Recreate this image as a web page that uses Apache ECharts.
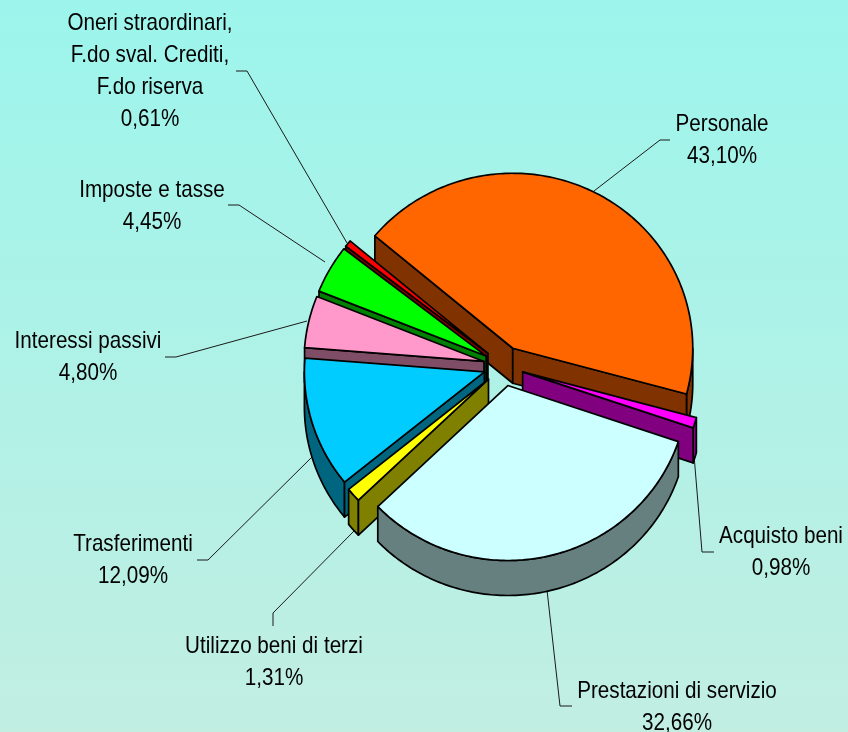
<!DOCTYPE html>
<html>
<head>
<meta charset="utf-8">
<style>html,body{margin:0;padding:0;background:#9cf5ec}#c{width:848px;height:732px}</style>
<script src="https://cdn.jsdelivr.net/npm/echarts@6/dist/echarts.min.js"></script>
</head>
<body>
<div id="c"></div>
<script>
// Data, clockwise from the first slice
const categories = ['Personale', 'Acquisto beni', 'Prestazioni di servizio', 'Utilizzo beni di terzi', 'Trasferimenti', 'Interessi passivi', 'Imposte e tasse', 'Oneri straordinari,\nF.do sval. Crediti,\nF.do riserva'];
const values = [43.10, 0.98, 32.66, 1.31, 12.09, 4.80, 4.45, 0.61];
// Styles
const topColors = ['#FF6600', '#FF00FF', '#CCFFFF', '#FFFF00', '#00CCFF', '#FF99CC', '#00FF00', '#FF0000'];
const sideColors = ['#803300', '#800080', '#668080', '#808000', '#006680', '#804D66', '#008000', '#800000'];
// Layout
const CX = 503.5, CY = 366, RX = 180, RY = 175, DEPTH = 35, EXPLODE = 20, START = 310;
const TEXT_SCALE_X = 0.86;
const drawOrder = [0, 7, 6, 5, 4, 3, 1, 2];
const labelCenters = [[722, 140], [781, 552], [677, 707], [274, 662], [133, 560], [88, 357], [152, 206], [150, 71]];
const leaders = [
  [[670, 140], [660, 140], [594, 191]],
  [[714, 552], [702, 552], [694, 455]],
  [[572, 706], [560, 706], [547, 590]],
  [[273, 626], [273, 613], [355, 530]],
  [[197, 560], [208, 560], [313, 456]],
  [[165, 357], [176, 357], [307, 321]],
  [[228, 205], [239, 205], [325, 262]],
  [[236, 71], [247, 71], [347, 243]]
];
const total = values.reduce((a, b) => a + b, 0);
const starts = [];
values.reduce((acc, v, i) => { starts[i] = acc; return acc + v / total * 360; }, START);

function pt(ox, oy, deg, dy) {
  const t = deg * Math.PI / 180;
  return [ox + RX * Math.sin(t), oy - RY * Math.cos(t) + (dy || 0)];
}
function arcPoints(ox, oy, a0, a1, dy) {
  const pts = [], n = Math.max(2, Math.ceil(Math.abs(a1 - a0) / 1));
  for (let k = 0; k <= n; k++) pts.push(pt(ox, oy, a0 + (a1 - a0) * k / n, dy));
  return pts;
}
const EDGE = { stroke: '#000', lineWidth: 1.7, lineJoin: 'round' };
function poly(points, fill) {
  return { type: 'polygon', shape: { points }, style: Object.assign({ fill }, EDGE) };
}
function renderSlice(params, api) {
  const v = api.value(0), idx = api.value(1), a0 = starts[idx], a1 = a0 + v / total * 360;
  const mid = (a0 + a1) / 2 * Math.PI / 180;
  const ox = CX + EXPLODE * Math.sin(mid), oy = CY - EXPLODE * Math.cos(mid);
  const side = sideColors[idx], children = [];
  // Outer wall: only the part of the rim that faces the viewer
  [[90, 270], [450, 630]].forEach(([lo, hi]) => {
    const s = Math.max(a0, lo), e = Math.min(a1, hi);
    if (e > s) children.push(poly(arcPoints(ox, oy, s, e, 0).concat(arcPoints(ox, oy, e, s, DEPTH)), side));
  });
  // Radial walls
  const wall = (deg) => {
    const p = pt(ox, oy, deg);
    children.push(poly([[ox, oy], p, [p[0], p[1] + DEPTH], [ox, oy + DEPTH]], side));
  };
  if (-Math.cos((a0 - 90) * Math.PI / 180) > 0) wall(a0);
  if (-Math.cos((a1 + 90) * Math.PI / 180) > 0) wall(a1);
  // Top face
  children.push(poly([[ox, oy]].concat(arcPoints(ox, oy, a0, a1, 0)), topColors[idx]));
  return { type: 'group', children };
}
function renderLabel(params, api) {
  const idx = api.value(1), c = labelCenters[idx];
  return {
    type: 'group',
    children: [
      { type: 'polyline', shape: { points: leaders[idx] }, style: { fill: null, stroke: '#1a1a1a', lineWidth: 1 } },
      {
        type: 'text', x: c[0], y: c[1], scaleX: TEXT_SCALE_X,
        style: {
          text: categories[idx] + '\n' + api.value(0).toFixed(2).replace('.', ',') + '%',
          fill: '#000', font: '24px "Liberation Sans", sans-serif',
          lineHeight: 32, align: 'center', verticalAlign: 'middle'
        }
      }
    ]
  };
}
const chart = echarts.init(document.getElementById('c'), null, { renderer: 'canvas' });
chart.setOption({
  animation: false,
  backgroundColor: {
    type: 'linear', x: 0, y: 0, x2: 0, y2: 1,
    colorStops: [{ offset: 0, color: '#9CF5EC' }, { offset: 1, color: '#C2EEE2' }]
  },
  series: [
    { type: 'custom', coordinateSystem: 'none', z: 1, silent: true, clip: false,
      data: values.map((v, i) => [v, i]), renderItem: renderLabel },
    { type: 'custom', coordinateSystem: 'none', z: 2, silent: true, clip: false,
      data: drawOrder.map(i => [values[i], i]), renderItem: renderSlice }
  ]
});
</script>
</body>
</html>
